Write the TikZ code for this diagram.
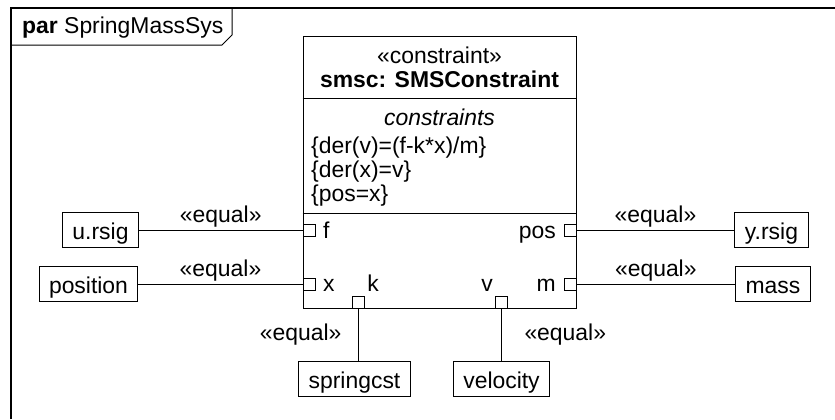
\documentclass[tikz,border=0pt]{standalone}
\usepackage{fontspec}
\setmainfont{Liberation Sans}
\begin{document}
\begin{tikzpicture}[x=1bp,y=-1bp,
    every node/.style={font=\fontsize{23}{24}\selectfont,inner sep=0pt},
    thing/.style={draw,line width=1bp,minimum height=35bp,inner xsep=10bp,
        text height=19bp,text depth=0bp},
    port/.style={draw,line width=1bp,minimum size=12bp},
    link/.style={line width=1bp}]

\def\EQ{«equal»}
	\useasboundingbox (0,0) rectangle (835,419);
	% frame and tab
	\draw[line width=1.3bp] (11,419) -- (11,8) -- (835,8);
	\draw[line width=1bp] (11,45) -- (222,45) -- (232,35) -- (232,8);
	\node[anchor=base west] (title) at (22,33) {\textbf{par} SpringMassSys};
	% constraint block
	\node[draw,line width=1bp,minimum width=273bp,minimum height=272bp] (smsc) at (439.5,172) {};
	\draw[line width=1bp] (smsc.west |- 0,98) -- (smsc.east |- 0,98);
	\draw[line width=1bp] (smsc.west |- 0,213) -- (smsc.east |- 0,213);
	\node[anchor=base] (stereo) at (439.5,63) {«constraint»};
	\node[anchor=base] (name) at (439.5,87) {\textbf{smsc: SMSConstraint}};
	\node[anchor=base] (ctitle) at (439.5,125) {\textit{constraints}};
	\node[anchor=base west] (c1) at (311,153) {\{der(v)=(f-k*x)/m\}};
	\node[anchor=base west] (c2) at (311,177) {\{der(x)=v\}};
	\node[anchor=base west] (c3) at (311,201) {\{pos=x\}};
	% ports
	\node[port] (pf) at (309,230) {};
	\node[port] (px) at (309,284) {};
	\node[port] (pk) at (358,302) {};
	\node[port] (ppos) at (570,230) {};
	\node[port] (pm) at (570,284) {};
	\node[port] (pv) at (501,302) {};
	\node[anchor=base west] (lf) at (323,238) {f};
	\node[anchor=base west] (lx) at (323,291) {x};
	\node[anchor=base] (lk) at (373,291) {k};
	\node[anchor=base east] (lpos) at (556,238) {pos};
	\node[anchor=base east] (lm) at (556,291) {m};
	\node[anchor=base] (lv) at (487,291) {v};
	% outside parts
	\node[thing] (ursig) at (100.5,230) {u.rsig};
	\node[thing] (position) at (88.5,284) {position};
	\node[thing] (springcst) at (354.5,378.5) {springcst};
	\node[thing] (yrsig) at (771.5,230) {y.rsig};
	\node[thing] (mass) at (773,284) {mass};
	\node[thing] (velocity) at (501.5,378.5) {velocity};
	% bindings
	\draw[link] (ursig) -- node[above=2.5bp] {\EQ} (pf);
	\draw[link] (position) -- node[above=2.5bp] {\EQ} (px);
	\draw[link] (ppos) -- node[above=2.5bp] {\EQ} (yrsig);
	\draw[link] (pm) -- node[above=2.5bp] {\EQ} (mass);
	\draw[link] (pk) -- node[left=16bp] {\EQ} (pk |- springcst.north);
	\draw[link] (pv) -- node[right=23bp] {\EQ} (pv |- velocity.north);

\end{tikzpicture}
\end{document}
